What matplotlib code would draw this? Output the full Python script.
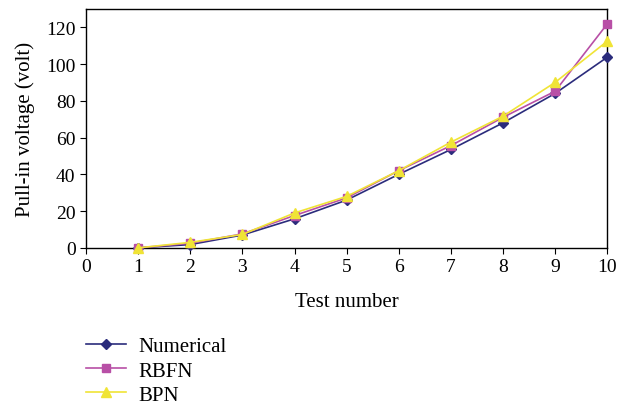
import matplotlib as mpl
import matplotlib.pyplot as plt

mpl.rcParams.update({
    "font.family": ["Liberation Serif", "DejaVu Serif"],
    "font.size": 14,
})

test_no = [1, 2, 3, 4, 5, 6, 7, 8, 9, 10]
numerical = [0.0, 1.8, 7.0, 15.8, 26.0, 40.0, 53.5, 68.0, 84.0, 103.7]
rbfn = [0.0, 2.5, 7.6, 17.6, 27.2, 42.0, 55.6, 71.0, 85.2, 121.8]
bpn = [0.0, 3.0, 7.3, 19.0, 28.0, 42.0, 57.5, 71.6, 90.0, 112.4]

fig = plt.figure(figsize=(6.28, 4.10), dpi=100)
ax = fig.add_axes([0.137, 0.393, 0.83, 0.583])

ax.plot(test_no, numerical, color="#2b2c7c", marker="D", markersize=5,
        linewidth=1.2, label="Numerical", clip_on=False, zorder=3)
ax.plot(test_no, rbfn, color="#b84fa6", marker="s", markersize=6,
        linewidth=1.2, label="RBFN", clip_on=False, zorder=4)
ax.plot(test_no, bpn, color="#f0e436", marker="^", markersize=7,
        linewidth=1.2, label="BPN", clip_on=False, zorder=5)

ax.set_xlim(0, 10)
ax.set_ylim(0, 130)
ax.set_xticks(range(0, 11))
ax.set_yticks(range(0, 121, 20))
ax.tick_params(direction="out", length=4, width=0.8, labelsize=14)
for s in ax.spines.values():
    s.set_linewidth(1.0)

ax.set_xlabel("Test number", fontsize=15, labelpad=12)
ax.set_ylabel("Pull-in voltage (volt)", fontsize=15, labelpad=8)

fig.legend(loc="upper left", bbox_to_anchor=(0.137, 0.176), frameon=False,
           fontsize=15, handlelength=1.9, labelspacing=0.22,
           borderaxespad=0, handletextpad=0.6, borderpad=0)

fig.savefig("out.png", dpi=100)
